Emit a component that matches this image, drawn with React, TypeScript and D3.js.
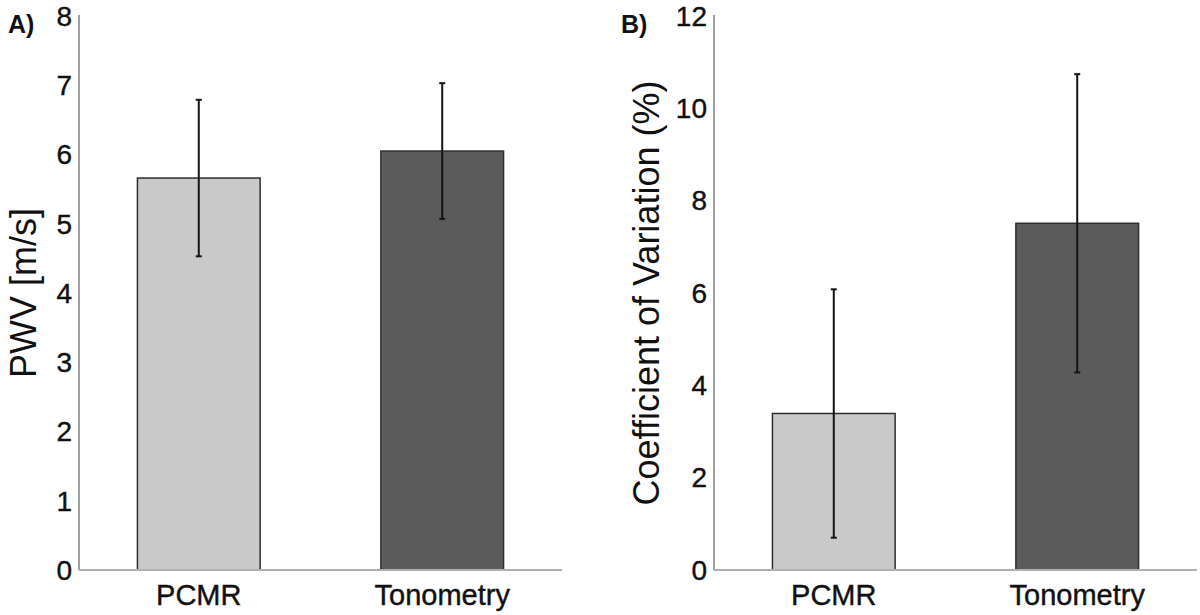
import React from 'react'
import * as d3 from 'd3'

const categories = ['PCMR', 'Tonometry']
const barColors = ['#c9c9c9', '#5b5b5b']

// panel A: pulse wave velocity
const pwvMean = [5.66, 6.05]
const pwvSd = [1.13, 0.98]
const pwvTicks = [0, 1, 2, 3, 4, 5, 6, 7, 8]

// panel B: coefficient of variation
const cvMean = [3.39, 7.51]
const cvSd = [2.69, 3.23]
const cvTicks = [0, 2, 4, 6, 8, 10, 12]

const FONT = 'Liberation Sans, Arial, sans-serif'

const Panel = ({ x0, letter, letterX, yLabel, labelOffset, mean, sd, ticks, yMax }) => {
  const left = x0
  const right = x0 + 483
  const top = 16
  const bottom = 570
  const x = d3
    .scaleBand()
    .domain(categories)
    .range([left, right])
    .paddingInner(0.496)
    .paddingOuter(0.24)
  const y = d3.scaleLinear().domain([0, yMax]).range([bottom, top])

  return (
    <g>
      {/* bars */}
      {categories.map((c, i) => (
        <rect
          key={c}
          x={x(c)}
          y={y(mean[i])}
          width={x.bandwidth()}
          height={y(0) - y(mean[i])}
          fill={barColors[i]}
          stroke="#2e2e2e"
          strokeWidth={1.5}
        />
      ))}
      {/* axes */}
      <line x1={left} x2={left} y1={top - 1} y2={bottom} stroke="#a0a0a0" strokeWidth={2} />
      <line x1={left} x2={right} y1={bottom} y2={bottom} stroke="#b0b0b0" strokeWidth={2} />
      {/* error bars */}
      {categories.map((c, i) => {
        const cx = x(c) + x.bandwidth() / 2
        const lo = y(mean[i] - sd[i])
        const hi = y(mean[i] + sd[i])
        return (
          <g key={c} stroke="#141414" strokeWidth={2}>
            <line x1={cx} x2={cx} y1={lo} y2={hi} />
            <line x1={cx - 3} x2={cx + 3} y1={lo} y2={lo} />
            <line x1={cx - 3} x2={cx + 3} y1={hi} y2={hi} />
          </g>
        )
      })}
      {/* tick labels */}
      {ticks.map((t) => (
        <text
          key={t}
          x={left - 7}
          y={y(t)}
          dy="0.35em"
          textAnchor="end"
          fontFamily={FONT}
          fontSize={28}
          fill="#111"
          stroke="#111"
          strokeWidth={0.4}
        >
          {t}
        </text>
      ))}
      {categories.map((c) => (
        <text
          key={c}
          x={x(c) + x.bandwidth() / 2}
          y={605}
          textAnchor="middle"
          fontFamily={FONT}
          fontSize={29}
          fill="#111"
          stroke="#111"
          strokeWidth={0.4}
        >
          {c}
        </text>
      ))}
      <text
        transform={`translate(${left - labelOffset},${(top + bottom) / 2}) rotate(-90)`}
        textAnchor="middle"
        fontFamily={FONT}
        fontSize={36}
        fill="#111"
      >
        {yLabel}
      </text>
      <text x={letterX} y={33} fontFamily={FONT} fontWeight="bold" fontSize={25} fill="#111">
        {letter}
      </text>
    </g>
  )
}

const App = () => {
  return (
    <svg
      width={1200}
      height={615}
      style={{ position: 'absolute', left: 0, top: 0, background: '#fff' }}
    >
      <rect width={1200} height={615} fill="#fff" />
      <Panel
        x0={79}
        letter="A)"
        letterX={8}
        yLabel="PWV [m/s]"
        labelOffset={43}
        mean={pwvMean}
        sd={pwvSd}
        ticks={pwvTicks}
        yMax={8}
      />
      <Panel
        x0={714}
        letter="B)"
        letterX={621}
        yLabel="Coefficient of Variation (%)"
        labelOffset={55}
        mean={cvMean}
        sd={cvSd}
        ticks={cvTicks}
        yMax={12}
      />
    </svg>
  )
}

export default App
